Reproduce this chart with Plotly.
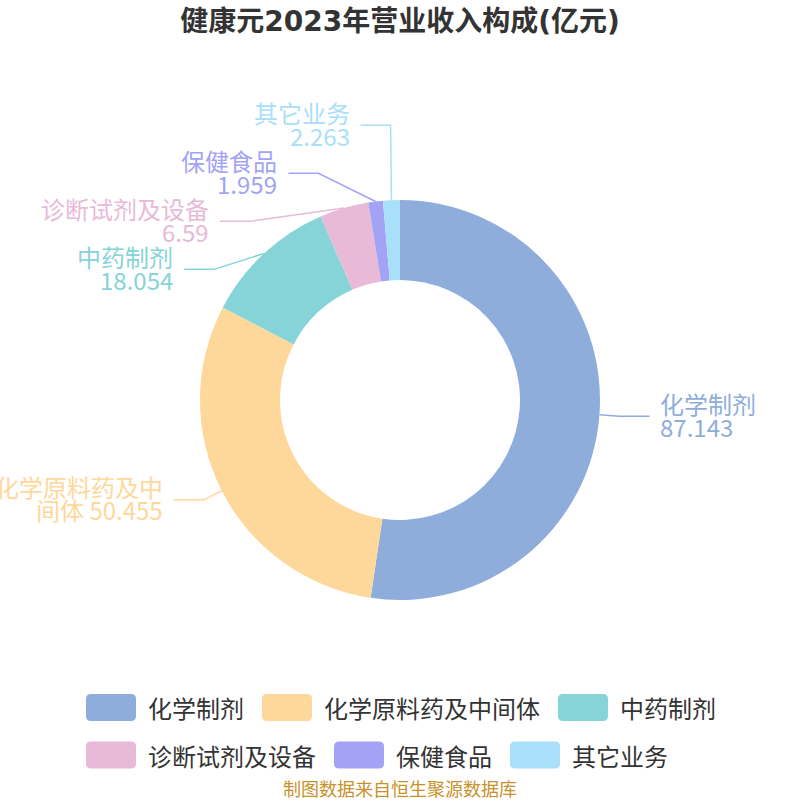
import math
import plotly.graph_objects as go

# ---- data ----
categories = ["化学制剂", "化学原料药及中间体", "中药制剂", "诊断试剂及设备", "保健食品", "其它业务"]
values = [87.143, 50.455, 18.054, 6.59, 1.959, 2.263]
colors = ["#8FADDB", "#FED89A", "#86D4D8", "#E8BAD8", "#A3A3F5", "#A8E0FA"]
title_text = "健康元2023年营业收入构成(亿元)"
source_text = "制图数据来自恒生聚源数据库"

# ---- layout parameters (pixels) ----
W = H = 800
CX, CY, R = 400, 400, 200
HOLE = 0.6
LEN1, LEN2, TEXT_GAP = 20, 30, 10
LABEL_FONT = 24
LABEL_MIN_GAP = 48
ELLIPSE_RB = 244
FONT = "Noto Sans CJK SC"


def px(x):
    return x / W


def py(y):
    return 1 - y / H


fig = go.Figure()
fig.add_trace(go.Pie(
    labels=categories, values=values, hole=HOLE, sort=False,
    direction="clockwise", rotation=0,
    marker=dict(colors=colors, line=dict(width=0)),
    textinfo="none", showlegend=False,
    domain=dict(x=[px(CX - R), px(CX + R)], y=[py(CY + R), py(CY - R)]),
))

# ---- label layout computed from data ----
total = sum(values)
items = []
cum = 0.0
for name, v, c in zip(categories, values, colors):
    mid = (cum + v / 2) / total * 2 * math.pi
    cum += v
    sx, sy = math.sin(mid), -math.cos(mid)
    it = dict(name=name, value=v, color=c,
              ex=CX + R * sx, ey=CY + R * sy,
              bx=CX + (R + LEN1) * sx, by=CY + (R + LEN1) * sy,
              side=1 if sx >= 0 else -1)
    items.append(it)

for side in (1, -1):
    for top in (True, False):
        grp = [it for it in items if it["side"] == side and ((it["by"] < CY) == top)]
        if len(grp) < 2:
            continue
        grp.sort(key=lambda d: d["by"])
        orig = [g["by"] for g in grp]
        last = None
        shifts = []
        for g in grp:
            if last is not None and g["by"] < last + LABEL_MIN_GAP:
                g["by"] = last + LABEL_MIN_GAP
            shifts.append(g["by"] - orig[len(shifts)])
            last = g["by"]
        avg = sum(shifts) / len(grp)
        for g in grp:
            g["by"] -= avg
        rA = R + LEN1
        for g in grp:
            dy = abs(g["by"] - CY)
            if dy < ELLIPSE_RB:
                dx = rA * math.sqrt(1 - dy * dy / ELLIPSE_RB ** 2)
                g["bx"] = CX + side * dx

shapes = []
annotations = []
LINE_OFFSETS = [-13, 10]
for it in items:
    side = it["side"]
    x3 = it["bx"] + side * LEN2
    path = "M {} {} L {} {} L {} {}".format(
        px(it["ex"]), py(it["ey"]), px(it["bx"]), py(it["by"]), px(x3), py(it["by"]))
    shapes.append(dict(type="path", path=path, xref="paper", yref="paper",
                       line=dict(color=it["color"], width=1.5)))
    tx = x3 + side * TEXT_GAP
    avail = (tx + 10) if side < 0 else (W - tx + 10)
    nfit = int(avail / LABEL_FONT)
    vs = f"{it['value']:g}"
    if len(it["name"]) > nfit:
        lines = [it["name"][:nfit], it["name"][nfit:] + " " + vs]
    else:
        lines = [it["name"], vs]
    for k, ln in enumerate(lines):
        annotations.append(dict(
            text=ln, x=px(tx), y=py(it["by"] + LINE_OFFSETS[k]), xref="paper", yref="paper",
            xanchor="left" if side > 0 else "right", yanchor="middle", showarrow=False,
            borderpad=0,
            font=dict(family=FONT, size=LABEL_FONT, color=it["color"])))

# ---- custom legend ----
LEG_FONT = 24
ICON_W, ICON_H, ICON_R = 50, 27, 5
ICON_TEXT_GAP, ITEM_GAP = 10, 20
ROW_MAX = 700
ROW_Y = [707.5, 755]
widths = [ICON_W + ICON_TEXT_GAP + len(n) * LEG_FONT for n in categories]
rows = [[]]
cur = 0
for i, w in enumerate(widths):
    need = w if not rows[-1] else cur + ITEM_GAP + w
    if rows[-1] and need > ROW_MAX:
        rows.append([i])
        cur = w
    else:
        rows[-1].append(i)
        cur = need
row_widths = [sum(widths[i] for i in r) + ITEM_GAP * (len(r) - 1) for r in rows]
left0 = W / 2 - max(row_widths) / 2


def rounded_rect(x0, y0, x1, y1, r):
    p = [(x0 + r, y0), (x1 - r, y0), (x1, y0 + r), (x1, y1 - r), (x1 - r, y1), (x0 + r, y1), (x0, y1 - r), (x0, y0 + r)]
    s = f"M {px(p[0][0])} {py(p[0][1])} L {px(p[1][0])} {py(p[1][1])} "
    s += f"Q {px(x1)} {py(y0)} {px(p[2][0])} {py(p[2][1])} L {px(p[3][0])} {py(p[3][1])} "
    s += f"Q {px(x1)} {py(y1)} {px(p[4][0])} {py(p[4][1])} L {px(p[5][0])} {py(p[5][1])} "
    s += f"Q {px(x0)} {py(y1)} {px(p[6][0])} {py(p[6][1])} L {px(p[7][0])} {py(p[7][1])} "
    s += f"Q {px(x0)} {py(y0)} {px(p[0][0])} {py(p[0][1])} Z"
    return s


for ri, r in enumerate(rows):
    x = left0
    yc = ROW_Y[ri] if ri < len(ROW_Y) else ROW_Y[-1] + 47 * (ri - len(ROW_Y) + 1)
    for i in r:
        shapes.append(dict(type="path", xref="paper", yref="paper",
                           path=rounded_rect(x, yc - ICON_H / 2, x + ICON_W, yc + ICON_H / 2, ICON_R),
                           fillcolor=colors[i], line=dict(width=0)))
        annotations.append(dict(text=categories[i], x=px(x + ICON_W + ICON_TEXT_GAP), y=py(yc),
                                xref="paper", yref="paper", xanchor="left", yanchor="middle",
                                showarrow=False, font=dict(family=FONT, size=LEG_FONT, color="#333333")))
        x += widths[i] + ITEM_GAP

annotations.append(dict(text=source_text, x=0.5, y=py(787.5), xref="paper", yref="paper",
                        xanchor="center", yanchor="middle", showarrow=False, borderpad=0,
                        font=dict(family=FONT, size=18, color="#C8922B")))

fig.update_layout(
    width=W, height=H, margin=dict(l=0, r=0, t=0, b=0),
    paper_bgcolor="white", plot_bgcolor="white",
    title=dict(text=f"<b>{title_text}</b>", x=0.5, xanchor="center", y=py(21), yanchor="middle",
               font=dict(family="DejaVu Sans, " + FONT, size=28, color="#333333")),
    shapes=shapes, annotations=annotations, showlegend=False,
)

fig.write_html("out.html", config={"displayModeBar": False},
               post_script="document.body.style.margin='0';document.body.style.overflow='hidden';")
